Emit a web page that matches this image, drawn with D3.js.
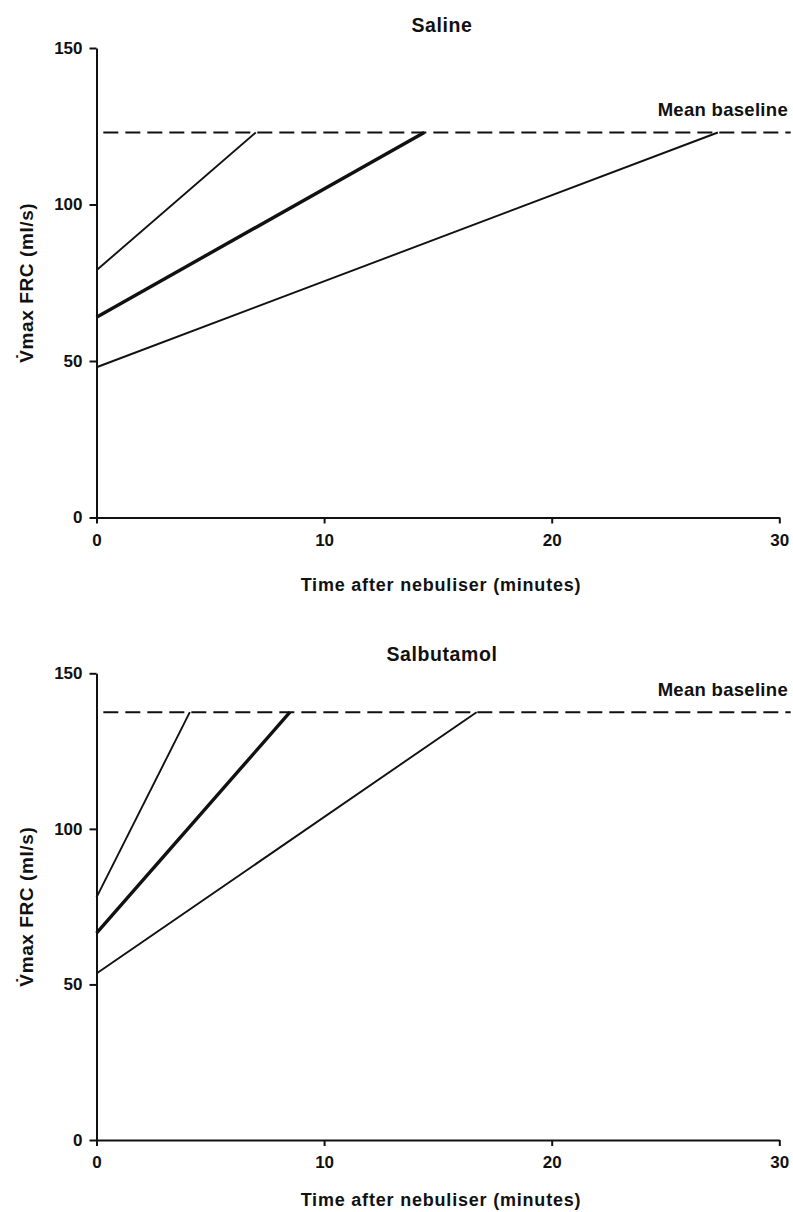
<!DOCTYPE html>
<html>
<head>
<meta charset="utf-8">
<script src="https://cdn.jsdelivr.net/npm/d3@7"></script>
<style>
    body { margin: 0; background: #fff; }
    text { font-family: "Liberation Sans", Arial, sans-serif; fill: #111; font-weight: bold; }
</style>
</head>
<body>
<div class="chart-container"></div>
<script>
// values
const timeTicks = [0, 10, 20, 30];
const flowTicks = [0, 50, 100, 150];

const panelTitles = ["Saline", "Salbutamol"];
const meanBaselines = [123, 137.5];

// each line starts at time 0 and rises until it meets the mean baseline
const salineStart = [79, 64, 48];
const salineReach = [7.0, 14.4, 27.3];
const salbutamolStart = [78, 66.5, 53.5];
const salbutamolReach = [4.1, 8.5, 16.7];

const w = 793;
const h = 1212;

const svg = d3.select(".chart-container")
    .append("svg")
    .attr("width", w)
    .attr("height", h);

const xScale = d3.scaleLinear()
    .domain([0, 30])
    .range([96.5, 779.3]);

const lineWidths = [1.9, 3.4, 1.9];

const drawPanel = (title, baseline, starts, reach, top, bottom, titleY, xTitleY) => {
    const yScale = d3.scaleLinear()
        .domain([0, 150])
        .range([bottom, top]);

    const g = svg.append("g");

    g.append("text")
        .attr("x", 442)
        .attr("y", titleY)
        .attr("text-anchor", "middle")
        .style("font-size", "19.5px")
        .style("letter-spacing", "0.6px")
        .text(title);

    // dashed mean baseline
    g.append("line")
        .attr("x1", xScale(0.3))
        .attr("x2", xScale(30.5))
        .attr("y1", yScale(baseline))
        .attr("y2", yScale(baseline))
        .attr("stroke", "#111")
        .attr("stroke-width", 2)
        .attr("stroke-dasharray", "15,7");

    g.append("text")
        .attr("x", 788)
        .attr("y", yScale(baseline) - 16.5)
        .attr("text-anchor", "end")
        .style("font-size", "18.5px")
        .style("letter-spacing", "0.3px")
        .text("Mean baseline");

    const line = d3.line()
        .x((d) => xScale(d[0]))
        .y((d) => yScale(d[1]));

    starts.forEach((s, i) => {
        g.append("path")
            .datum([[0, s], [reach[i], baseline]])
            .attr("d", line)
            .attr("fill", "none")
            .attr("stroke", "#111")
            .attr("stroke-width", lineWidths[i]);
    });

    const yAxis = d3.axisLeft(yScale)
        .tickValues(flowTicks)
        .tickSize(7)
        .tickSizeOuter(0)
        .tickPadding(7);

    const xAxis = d3.axisBottom(xScale)
        .tickValues(timeTicks)
        .tickSize(6)
        .tickSizeOuter(0)
        .tickPadding(10);

    const ya = g.append("g")
        .attr("transform", `translate(${xScale(0)},0)`)
        .call(yAxis);

    const xa = g.append("g")
        .attr("transform", `translate(0,${bottom})`)
        .call(xAxis);

    [ya, xa].forEach((a) => {
        a.select(".domain").attr("stroke", "#111").attr("stroke-width", 2);
        a.selectAll(".tick line").attr("stroke", "#111").attr("stroke-width", 2);
        a.selectAll(".tick text")
            .style("font-size", "17px")
            .style("font-family", "'Liberation Sans', Arial, sans-serif")
            .style("font-weight", "bold")
            .attr("fill", "#111");
    });

    g.append("text")
        .attr("x", 441)
        .attr("y", xTitleY)
        .attr("text-anchor", "middle")
        .style("font-size", "18px")
        .style("letter-spacing", "0.8px")
        .text("Time after nebuliser (minutes)");

    g.append("text")
        .attr("transform", `translate(33,${(top + bottom) / 2}) rotate(-90)`)
        .attr("text-anchor", "middle")
        .style("font-size", "19px")
        .style("letter-spacing", "0.6px")
        .text("V\u0307max FRC (ml/s)");
};

drawPanel(panelTitles[0], meanBaselines[0], salineStart, salineReach, 48, 517.5, 32, 591);
drawPanel(panelTitles[1], meanBaselines[1], salbutamolStart, salbutamolReach, 673.3, 1140, 661, 1206);
</script>
</body>
</html>
